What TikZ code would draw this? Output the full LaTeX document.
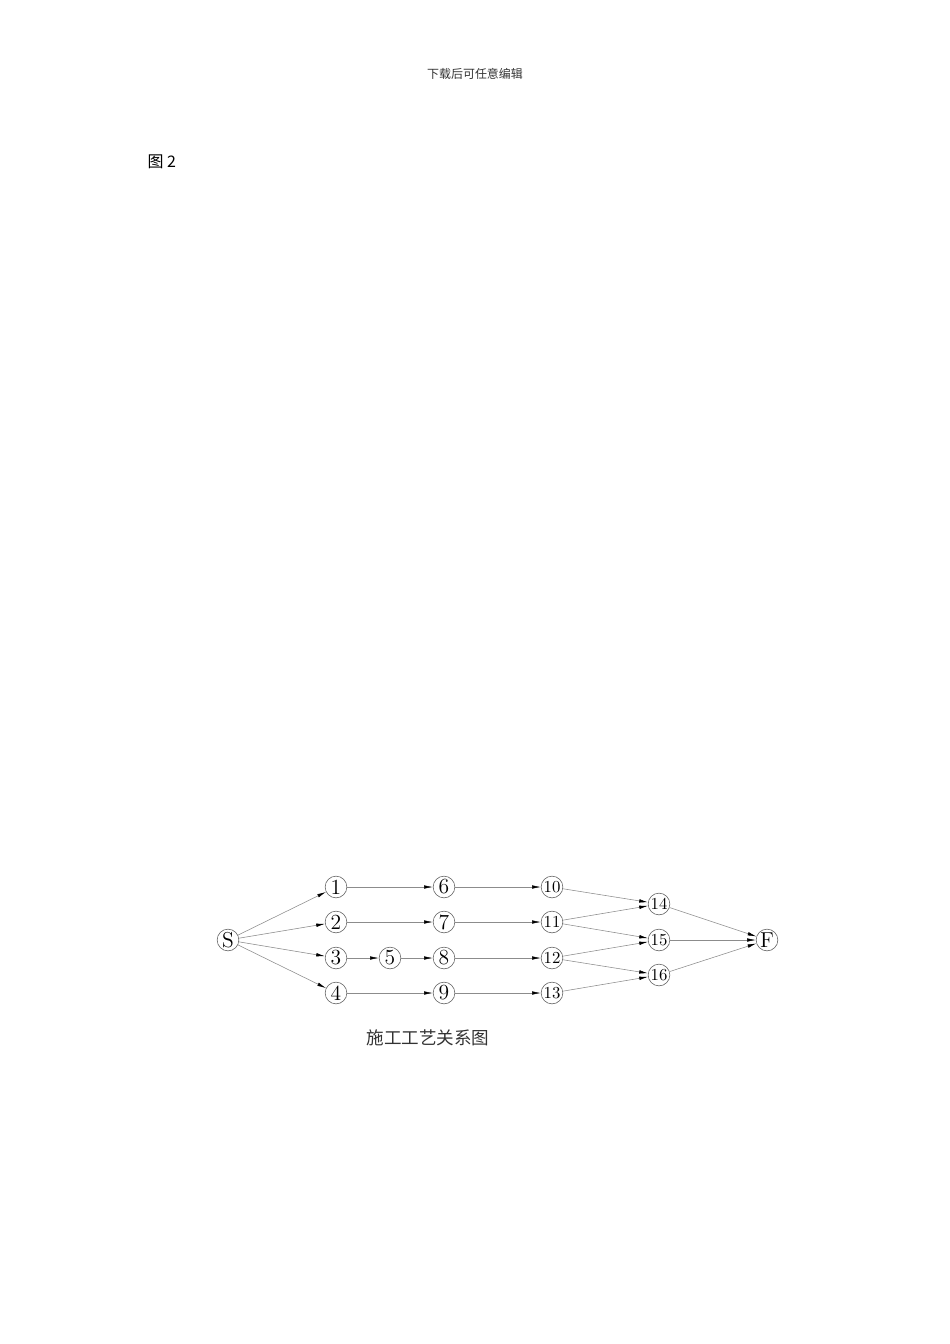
\documentclass[tikz,border=0pt]{standalone}
\usepackage{fontspec}
\newfontfamily\cjk{Noto Sans CJK SC}
\usetikzlibrary{arrows.meta}

\begin{document}
\begin{tikzpicture}[x=0.6263pt,y=-0.6263pt,
    stage/.style={draw=black!65,circle,line width=0.35pt,minimum size=13.6pt,
      inner sep=0pt,font=\fontsize{13.5}{13.5}\selectfont},
    smallstage/.style={stage,font=\fontsize{10.5}{10.5}\selectfont},
    flow/.style={draw=black!45,line width=0.35pt,
      -{Latex[length=5.5pt,width=2.2pt,color=black]}}]
          \useasboundingbox (0,0) rectangle (950,1344);
          \node (header)   at (475, 74) {\cjk\fontsize{7.5}{9}\selectfont\color{black!80}下载后可任意编辑};
          \node[anchor=west] (figlabel) at (142,162) {\cjk\fontsize{10}{12}\selectfont 图 2};
          \node (S)   at (228, 940) [stage] {S};
          \node (1)   at (336, 887) [stage] {1};
          \node (2)   at (336, 922) [stage] {2};
          \node (3)   at (336, 958) [stage] {3};
          \node (4)   at (336, 993) [stage] {4};
          \node (5)   at (390, 958) [stage] {5};
          \node (6)   at (444, 887) [stage] {6};
          \node (7)   at (444, 922) [stage] {7};
          \node (8)   at (444, 958) [stage] {8};
          \node (9)   at (444, 993) [stage] {9};
          \node (10)  at (552, 887) [smallstage] {10};
          \node (11)  at (552, 922) [smallstage] {11};
          \node (12)  at (552, 958) [smallstage] {12};
          \node (13)  at (552, 993) [smallstage] {13};
          \node (14)  at (659, 904) [smallstage] {14};
          \node (15)  at (659, 940) [smallstage] {15};
          \node (16)  at (659, 975) [smallstage] {16};
          \node (F)   at (767, 940) [stage] {F};
          \node (caption) at (428,1038) {\cjk\fontsize{11}{13}\selectfont\color{black!80}施工工艺关系图};
          \draw[flow] (S) edge (1) edge (2) edge (3) edge (4);
          \draw[flow] (1) edge (6) (2) edge (7) (3) edge (5) (5) edge (8) (4) edge (9);
          \draw[flow] (6) edge (10) (7) edge (11) (8) edge (12) (9) edge (13);
          \draw[flow] (10) edge (14) (11) edge (14) (11) edge (15)
          (12) edge (15) (12) edge (16) (13) edge (16);
          \draw[flow] (14) edge (F) (15) edge (F) (16) edge (F);
        \end{tikzpicture}
\end{document}
